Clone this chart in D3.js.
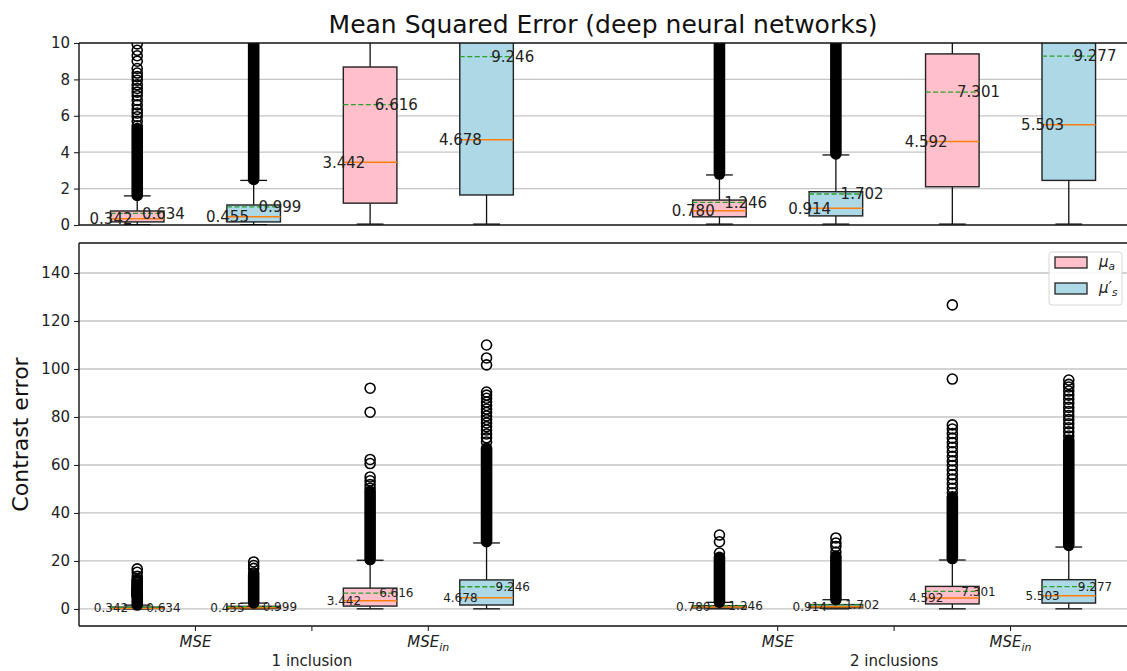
<!DOCTYPE html>
<html>
<head>
<meta charset="utf-8">
<script src="https://cdn.jsdelivr.net/npm/d3@7"></script>
<style>
  body { margin: 0; background: #fff; }
  svg { display: block; font-family: "DejaVu Sans", sans-serif; }
</style>
</head>
<body>
<svg id="chart" width="1127" height="671"></svg>
<script>
// ---------------- DATA ----------------
const title = "Mean Squared Error (deep neural networks)";
const yLabel = "Contrast error";
const groups = ["1 inclusion", "2 inclusions"];
const params = ["mu_a", "mu_s"];
const paramColors = ["#ffc0cb", "#add8e6"];
// box positions (x units), parameter index per box
const positions = [1, 2, 3, 4, 6, 7, 8, 9];
const boxParam = [0, 1, 0, 1, 0, 1, 0, 1];
const q1 = [0.17, 0.17, 1.2, 1.65, 0.45, 0.5, 2.1, 2.45];
const medians = [0.342, 0.455, 3.442, 4.678, 0.780, 0.914, 4.592, 5.503];
const q3 = [0.77, 1.1, 8.68, 12.1, 1.37, 1.83, 9.4, 12.2];
const means = [0.634, 0.999, 6.616, 9.246, 1.246, 1.702, 7.301, 9.277];
const whiskerLow = [0.02, 0.02, 0.05, 0.05, 0.05, 0.05, 0.05, 0.05];
const whiskerHigh = [1.6, 2.45, 20.3, 27.5, 2.75, 3.85, 20.4, 25.8];
// ranges where fliers overlap into a solid column
const denseLow = [1.62, 2.5, 20.6, 28.0, 2.8, 3.9, 21.0, 26.5];
const denseHigh = [5.3, 14.2, 49.0, 67.0, 21.5, 22.0, 46.7, 70.4];
// individually visible fliers
const outliers1 = [5.45,5.7,5.95,6.15,6.35,6.6,6.85,7.1,7.3,7.5,7.7,7.95,8.15,8.35,8.6,9.0,9.3,9.6,9.95,10.4,10.9,11.4,11.9,12.4,13.6,15.3,16.7];
const outliers2 = [15.0,16.9,18.1,19.6];
const outliers3 = [50.3,51.8,53.4,55.0,60.6,62.3,82.0,92.0];
const outliers4 = [69.6,71.3,72.9,74.6,76.0,77.5,78.9,80.4,81.9,83.3,84.8,86.2,87.8,89.1,90.4,101.7,104.6,110.0];
const outliers5 = [23.3,28.0,30.8];
const outliers6 = [23.7,26.0,27.5,29.6];
const outliers7 = [48.4,50.3,52.2,54.1,56.0,57.9,59.8,61.7,63.6,65.5,67.4,69.3,71.2,73.1,75.0,76.7,95.8,126.7];
const outliers8 = [72.1,73.8,75.5,77.2,78.9,80.6,82.3,84.0,85.7,87.4,89.1,90.8,92.5,93.6,95.4];
const outliers = [outliers1, outliers2, outliers3, outliers4, outliers5, outliers6, outliers7, outliers8];
const topTicks = [0, 2, 4, 6, 8, 10];
const bottomTicks = [0, 20, 40, 60, 80, 100, 120, 140];
const xTickPositions = [1.5, 2.5, 3.5, 6.5, 7.5, 8.5];
const xTickLabels = ["MSE", "1 inclusion", "MSE_in", "MSE", "2 inclusions", "MSE_in"];

// ---------------- LAYOUT ----------------
const svg = d3.select("#chart");
const L = 79, R = 1127;
const x = d3.scaleLinear().domain([0.5, 9.5]).range([L, R]);
const boxW = 0.46, capW = 0.23, labelOff = 0.225;
const mr = 5, msw = 1.6;

const panels = [
  { top: 43, bottom: 225, domain: [0, 10], ticks: topTicks, labelSize: 15, id: "ptop", showX: false },
  { top: 243, bottom: 626, domain: [-7.1, 152.5], ticks: bottomTicks, labelSize: 12, id: "pbot", showX: true }
];

const defs = svg.append("defs");

panels.forEach(p => {
  const y = d3.scaleLinear().domain(p.domain).range([p.bottom, p.top]);
  defs.append("clipPath").attr("id", "clip-" + p.id)
    .append("rect").attr("x", L).attr("y", p.top).attr("width", R - L + 10).attr("height", p.bottom - p.top);
  const g = svg.append("g");
  // grid
  g.append("g").selectAll("line").data(p.ticks.filter(t => t > p.domain[0] && t < p.domain[1])).join("line")
    .attr("x1", L).attr("x2", R + 10).attr("y1", d => y(d)).attr("y2", d => y(d))
    .attr("stroke", "#c4c4c4").attr("stroke-width", 1.3);
  // y axis
  const ax = g.append("g").attr("transform", `translate(${L},0)`)
    .call(d3.axisLeft(y).tickValues(p.ticks).tickSize(5).tickPadding(4).tickFormat(d3.format("d")));
  ax.select(".domain").remove();
  ax.selectAll("line").attr("stroke", "#222").attr("stroke-width", 1.1);
  ax.selectAll("text").attr("font-size", 15).attr("fill", "#222").attr("font-family", "DejaVu Sans");

  const plot = g.append("g").attr("clip-path", `url(#clip-${p.id})`);
  positions.forEach((pos, i) => {
    const bg = plot.append("g");
    const cx = x(pos);
    // whiskers
    bg.append("line").attr("x1", cx).attr("x2", cx).attr("y1", y(q3[i])).attr("y2", y(whiskerHigh[i])).attr("stroke", "#111").attr("stroke-width", 1.3);
    bg.append("line").attr("x1", cx).attr("x2", cx).attr("y1", y(q1[i])).attr("y2", y(whiskerLow[i])).attr("stroke", "#111").attr("stroke-width", 1.3);
    [whiskerLow[i], whiskerHigh[i]].forEach(v => {
      bg.append("line").attr("x1", x(pos - capW / 2)).attr("x2", x(pos + capW / 2))
        .attr("y1", y(v)).attr("y2", y(v)).attr("stroke", "#111").attr("stroke-width", 1.3);
    });
    // box
    bg.append("rect").attr("x", x(pos - boxW / 2)).attr("width", x(pos + boxW / 2) - x(pos - boxW / 2))
      .attr("y", y(q3[i])).attr("height", y(q1[i]) - y(q3[i]))
      .attr("fill", paramColors[boxParam[i]]).attr("stroke", "#222").attr("stroke-width", 1.4);
    // median
    bg.append("line").attr("x1", x(pos - boxW / 2)).attr("x2", x(pos + boxW / 2))
      .attr("y1", y(medians[i])).attr("y2", y(medians[i])).attr("stroke", "#ff7f0e").attr("stroke-width", 1.5);
    // mean
    bg.append("line").attr("x1", x(pos - boxW / 2)).attr("x2", x(pos + boxW / 2))
      .attr("y1", y(means[i])).attr("y2", y(means[i])).attr("stroke", "#2ca02c").attr("stroke-width", 1.3)
      .attr("stroke-dasharray", "5,2.5");
    // dense flier column (overlapping markers)
    const half = mr + msw / 2;
    bg.append("rect").attr("x", cx - half).attr("width", 2 * half)
      .attr("y", y(denseHigh[i]) - half).attr("height", y(denseLow[i]) - y(denseHigh[i]) + 2 * half)
      .attr("rx", half).attr("fill", "#000");
    // individual fliers
    bg.append("g").selectAll("circle").data(outliers[i]).join("circle")
      .attr("cx", cx).attr("cy", d => y(d)).attr("r", mr)
      .attr("fill", "none").attr("stroke", "#000").attr("stroke-width", msw);
  });
  // value labels
  const tg = g.append("g").attr("font-size", p.labelSize).attr("fill", "#222").attr("text-anchor", "middle");
  positions.forEach((pos, i) => {
    tg.append("text").attr("x", x(pos - labelOff)).attr("y", y(medians[i])).attr("dy", "0.35em").text(medians[i].toFixed(3));
    tg.append("text").attr("x", x(pos + labelOff)).attr("y", y(means[i])).attr("dy", "0.35em").text(means[i].toFixed(3));
  });
  // spines
  const sp = g.append("g").attr("stroke", "#111").attr("stroke-width", 1.4);
  sp.append("line").attr("x1", L).attr("x2", L).attr("y1", p.top).attr("y2", p.bottom);
  sp.append("line").attr("x1", L).attr("x2", R + 10).attr("y1", p.top).attr("y2", p.top);
  sp.append("line").attr("x1", L).attr("x2", R + 10).attr("y1", p.bottom).attr("y2", p.bottom);

  if (p.showX) {
    const xg = g.append("g");
    xTickPositions.forEach((tp, k) => {
      xg.append("line").attr("x1", x(tp)).attr("x2", x(tp)).attr("y1", p.bottom).attr("y2", p.bottom + 5)
        .attr("stroke", "#222").attr("stroke-width", 1.1);
      const lab = xTickLabels[k];
      if (lab.startsWith("MSE")) {
        const t = xg.append("text").attr("x", x(tp)).attr("y", 647).attr("text-anchor", "middle")
          .attr("font-size", 15).attr("fill", "#222");
        t.append("tspan").attr("font-style", "italic").text("MSE");
        if (lab === "MSE_in") {
          t.append("tspan").attr("font-style", "italic").attr("font-size", 11).attr("dy", 4).text("in");
        }
      } else {
        xg.append("text").attr("x", x(tp)).attr("y", 666).attr("text-anchor", "middle")
          .attr("font-size", 15).attr("fill", "#222").text(lab);
      }
    });
    // legend
    const lg = g.append("g");
    lg.append("rect").attr("x", 1049).attr("y", 252).attr("width", 73).attr("height", 53).attr("rx", 3)
      .attr("fill", "#fff").attr("fill-opacity", 0.85).attr("stroke", "#d6d6d6");
    const legendText = ["μ", "μ′"];
    const subs = ["a", "s"];
    params.forEach((pm, k) => {
      const yy = 257 + k * 26;
      lg.append("rect").attr("x", 1055).attr("y", yy).attr("width", 32).attr("height", 11)
        .attr("fill", paramColors[k]).attr("stroke", "#222").attr("stroke-width", 1.3);
      const t = lg.append("text").attr("x", 1099).attr("y", yy + 10).attr("font-size", 15).attr("fill", "#222")
        .attr("font-style", "italic");
      t.append("tspan").text(legendText[k]);
      t.append("tspan").attr("font-size", 10.5).attr("dy", 3).text(subs[k]);
    });
  }
});

// title and y label
svg.append("text").attr("x", (L + R) / 2).attr("y", 33).attr("text-anchor", "middle")
  .attr("font-size", 25).attr("fill", "#111").text(title);
svg.append("text").attr("transform", "translate(28,434.5) rotate(-90)").attr("text-anchor", "middle")
  .attr("font-size", 22).attr("fill", "#111").text(yLabel);
</script>
</body>
</html>
